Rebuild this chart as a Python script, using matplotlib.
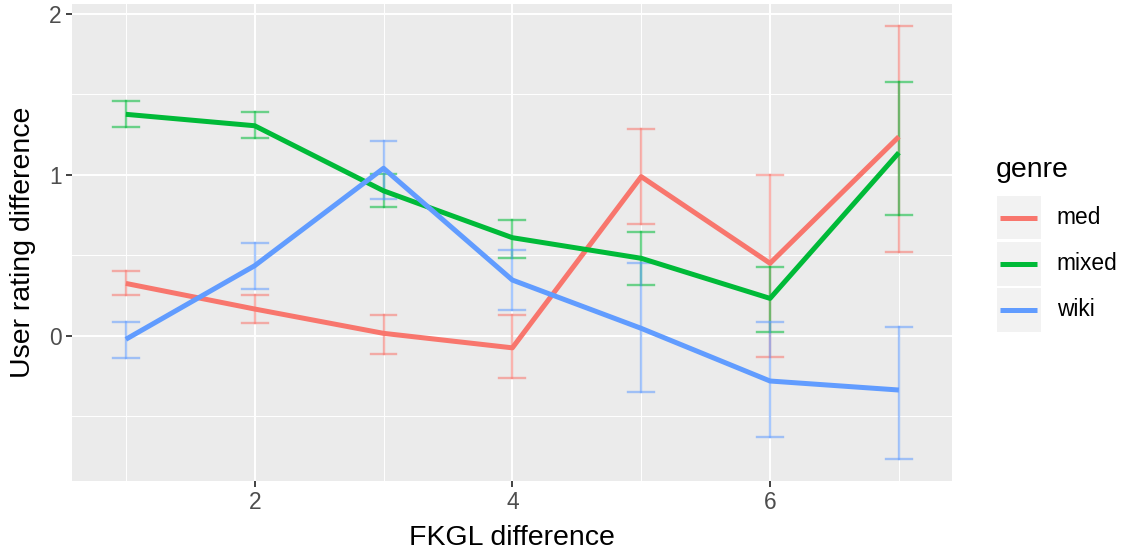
import matplotlib.pyplot as plt
from matplotlib.patches import Rectangle
from matplotlib.lines import Line2D

plt.rcParams['font.family'] = ['Liberation Sans', 'DejaVu Sans']

# Data
fkgl = [1, 2, 3, 4, 5, 6, 7]
genres = ['med', 'mixed', 'wiki']
colors = {'med': '#F8766D', 'mixed': '#00BA38', 'wiki': '#619CFF'}

mean = {
    'med':   [0.325, 0.166, 0.015, -0.075, 0.988, 0.450, 1.236],
    'mixed': [1.375, 1.304, 0.900, 0.609, 0.481, 0.232, 1.137],
    'wiki':  [-0.022, 0.435, 1.040, 0.346, 0.046, -0.281, -0.337],
}
lower = {
    'med':   [0.253, 0.077, -0.112, -0.265, 0.692, -0.130, 0.522],
    'mixed': [1.296, 1.226, 0.800, 0.485, 0.313, 0.021, 0.748],
    'wiki':  [-0.137, 0.290, 0.850, 0.161, -0.352, -0.629, -0.768],
}
upper = {
    'med':   [0.400, 0.255, 0.127, 0.127, 1.284, 0.998, 1.924],
    'mixed': [1.460, 1.388, 1.006, 0.717, 0.642, 0.425, 1.574],
    'wiki':  [0.085, 0.576, 1.210, 0.532, 0.452, 0.083, 0.056],
}

W, H = 1127, 550
fig = plt.figure(figsize=(W / 100, H / 100), dpi=100)
ax = fig.add_axes([72 / W, 69.3 / H, (951.7 - 72) / W, (480.7 - 4) / H])
ax.set_facecolor('#EBEBEB')

# grid
for y in [-0.5, 0.5, 1.5]:
    ax.axhline(y, color='white', lw=0.7, zorder=0)
for y in [0, 1, 2]:
    ax.axhline(y, color='white', lw=1.4, zorder=0)
for x in [1, 3, 5, 7]:
    ax.axvline(x, color='white', lw=0.7, zorder=0)
for x in [2, 4, 6]:
    ax.axvline(x, color='white', lw=1.4, zorder=0)

# error bars then lines
for g in genres:
    for x, lo, hi in zip(fkgl, lower[g], upper[g]):
        ax.plot([x, x], [lo, hi], color=colors[g], alpha=0.55, lw=1.7, zorder=2)
        ax.plot([x - 0.1, x + 0.1], [lo, lo], color=colors[g], alpha=0.55, lw=1.7, zorder=2)
        ax.plot([x - 0.1, x + 0.1], [hi, hi], color=colors[g], alpha=0.55, lw=1.7, zorder=2)
for g in genres:
    ax.plot(fkgl, mean[g], color=colors[g], lw=3.6, zorder=3, solid_capstyle='butt')

ax.set_xlim(0.582, 7.41)
ax.set_ylim(-0.90, 2.06)
ax.set_xticks([2, 4, 6])
ax.set_yticks([0, 1, 2])
for s in ax.spines.values():
    s.set_visible(False)
ax.tick_params(length=4.5, width=1.3, color='#333333', labelcolor='#4D4D4D', labelsize=16.4, pad=3)

fig.text(512 / W, 1 - 545 / H, 'FKGL difference', fontsize=20.5, ha='center', va='baseline')
fig.text(23 / W, 1 - 242.4 / H, 'User rating difference', fontsize=20.5, rotation=90,
         ha='center', va='center')

# legend drawn by hand
fig.text(996 / W, 1 - 176.7 / H, 'genre', fontsize=20.5, va='baseline', ha='left')
rows = [(196, 239), (242.3, 285.7), (288.3, 331.7)]
for g, (t, b) in zip(genres, rows):
    fig.patches.append(Rectangle((997.3 / W, 1 - b / H), (1040.7 - 997.3) / W, (b - t) / H,
                                 transform=fig.transFigure, facecolor='#F2F2F2', edgecolor='none'))
    yc = 1 - (t + b) / 2 / H
    fig.lines.append(Line2D([1000 / W, 1037 / W], [yc, yc], transform=fig.transFigure,
                            color=colors[g], lw=3.6, solid_capstyle='butt'))
    fig.text(1056.7 / W, yc, g, fontsize=16.4, va='center', ha='left')

fig.savefig('out.png', dpi=100)
